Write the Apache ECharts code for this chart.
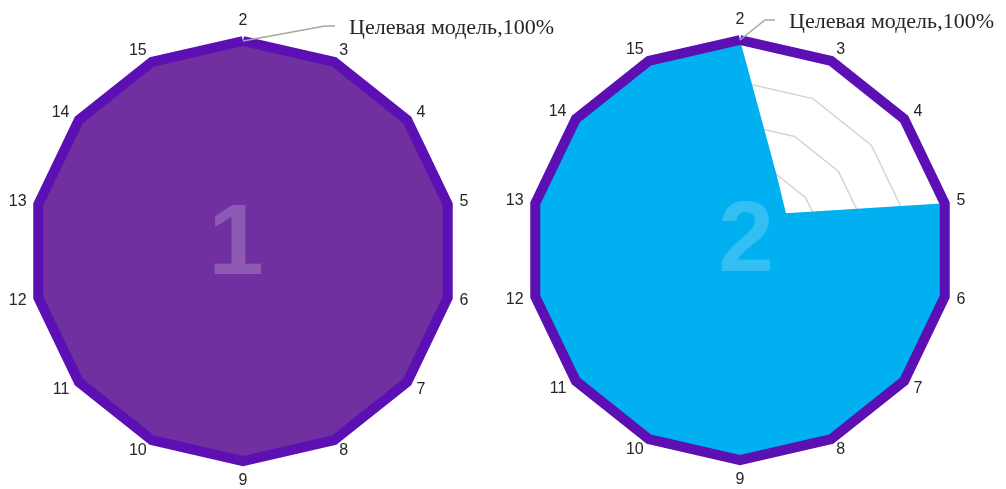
<!DOCTYPE html>
<html><head><meta charset="utf-8">
<script src="https://cdn.jsdelivr.net/npm/echarts@6/dist/echarts.min.js"></script>
<style>html,body{margin:0;padding:0;background:#fff}#c{width:1006px;height:489px}</style>
</head><body><div id="c"></div>
<script>
// Data (natural clockwise order starting from the top axis)
const categories = ['2','3','4','5','6','7','8','9','10','11','12','13','14','15'];
const targetValues = [100,100,100,100,100,100,100,100,100,100,100,100,100,100];
const currentValues = [100,40,28,100,100,100,100,100,100,100,100,100,100,100];
const seriesNames = ['Целевая модель', 'Текущее состояние'];
const panelNumbers = ['1','2'];

// ECharts lays indicators counter-clockwise; reorder to draw clockwise.
const order = [0].concat(categories.map((_, i) => i).slice(1).reverse());
const cats = order.map(i => categories[i]);
const tv = order.map(i => targetValues[i]);
const cv = order.map(i => currentValues[i]);

const R = 210;
const centers = [[243, 251], [740, 250]];
const purple = '#5c0fb3';

function radarCfg(c) {
  return {
    center: c, radius: R, startAngle: 90, shape: 'polygon', splitNumber: 5,
    indicator: cats.map(n => ({ name: n, max: 100, min: 0 })),
    axisName: { color: '#262626', fontSize: 16, fontFamily: 'Liberation Sans' },
    nameGap: 12,
    axisLine: { show: false }, axisTick: { show: false }, axisLabel: { show: false },
    splitArea: { show: false },
    splitLine: { lineStyle: { color: '#d4d4d4', width: 1.5 } }
  };
}

const chart = echarts.init(document.getElementById('c'), null, { renderer: 'canvas' });
const graphic = [];
centers.forEach((c, k) => {
  const top = [c[0], c[1] - R];
  const elbow = k === 0 ? [top[0] + 82, top[1] - 15] : [top[0] + 25, top[1] - 20];
  const end = [elbow[0] + 10, elbow[1]];
  graphic.push({ type: 'polyline', z: 100, shape: { points: [top, elbow, end] },
    style: { stroke: '#a6a6a6', lineWidth: 1.5, fill: null } });
  graphic.push({ type: 'text', z: 100, x: end[0] + 14, y: elbow[1] + 2,
    style: { text: seriesNames[0] + ',' + targetValues[0] + '%', fill: '#262626',
      font: '22px "Liberation Serif"', verticalAlign: 'middle', align: 'left' } });
});
graphic.push({ type: 'text', z: 50, x: 236, y: 246,
  style: { text: panelNumbers[0], fill: 'rgba(255,255,255,0.2)', font: 'bold 100px "Liberation Sans"', align: 'center', verticalAlign: 'middle' } });
graphic.push({ type: 'text', z: 50, x: 746, y: 243,
  style: { text: panelNumbers[1], fill: 'rgba(255,255,255,0.2)', font: 'bold 100px "Liberation Sans"', align: 'center', verticalAlign: 'middle' } });

const border = { color: purple, width: 10, join: 'miter' };
chart.setOption({
  animation: false,
  radar: [radarCfg(centers[0]), radarCfg(centers[1])],
  series: [
    { type: 'radar', radarIndex: 0, symbol: 'none', z: 2,
      data: [{ name: seriesNames[0], value: tv,
        lineStyle: { width: 0, opacity: 0 },
        areaStyle: { color: '#7030a0', opacity: 1 } }] },
    { type: 'radar', radarIndex: 0, symbol: 'none', z: 3,
      data: [{ name: seriesNames[0], value: tv, lineStyle: border, areaStyle: { opacity: 0 } }] },
    { type: 'radar', radarIndex: 1, symbol: 'none', z: 2,
      data: [{ name: seriesNames[1], value: cv,
        lineStyle: { width: 0, opacity: 0 },
        areaStyle: { color: '#00b0f0', opacity: 1 } }] },
    { type: 'radar', radarIndex: 1, symbol: 'none', z: 3,
      data: [{ name: seriesNames[0], value: tv, lineStyle: border, areaStyle: { opacity: 0 } }] }
  ],
  graphic: graphic
});
</script></body></html>
